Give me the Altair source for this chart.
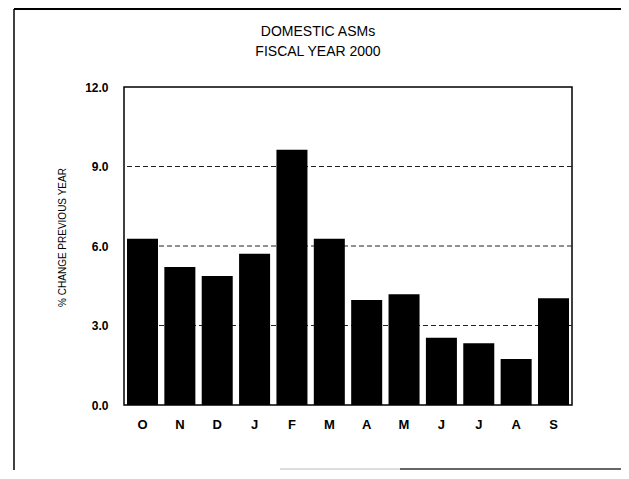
import altair as alt
import pandas as pd

months = ["Oct", "Nov", "Dec", "Jan", "Feb", "Mar", "Apr", "May", "Jun", "Jul", "Aug", "Sep"]
tick_labels = ["O", "N", "D", "J", "F", "M", "A", "M", "J", "J", "A", "S"]
values = [6.27, 5.21, 4.87, 5.71, 9.63, 6.27, 3.96, 4.18, 2.54, 2.33, 1.74, 4.03]
gridlines = [3.0, 6.0, 9.0]
y_ticks = [0.0, 3.0, 6.0, 9.0, 12.0]

FONT = "Liberation Sans"

df = pd.DataFrame({"month": months, "value": values})
grid_df = pd.DataFrame({"g": gridlines})
one = pd.DataFrame({"a": [0]})

months_js = "[" + ",".join("'%s'" % m for m in months) + "]"
labels_js = "[" + ",".join("'%s'" % t for t in tick_labels) + "]"
label_expr = labels_js + "[indexof(" + months_js + ", datum.value)]"

yscale = alt.Scale(domain=[0, 12], nice=False)

grid = alt.Chart(grid_df).mark_rule(
    color="#222222", strokeWidth=1, strokeDash=[5, 3]
).encode(y=alt.Y("g:Q", scale=yscale))

bars = alt.Chart(df).mark_bar(color="black").encode(
    x=alt.X(
        "month:N",
        sort=months,
        scale=alt.Scale(paddingInner=0.17, paddingOuter=0.08),
        axis=alt.Axis(
            title=None, labelExpr=label_expr, labelAngle=0, ticks=False,
            domain=False, labelPadding=13, labelFontSize=13,
            labelFontWeight="bold", labelFont=FONT, labelColor="black",
        ),
    ),
    y=alt.Y(
        "value:Q",
        scale=yscale,
        axis=alt.Axis(
            title="% CHANGE PREVIOUS YEAR", values=y_ticks, format=".1f",
            grid=False, ticks=False, domain=False, labelPadding=16,
            labelFontSize=12, labelFontWeight="bold", labelFont=FONT,
            labelColor="black", titleFont=FONT, titleFontSize=10,
            titleFontWeight="normal", titleColor="black", titleAngle=-90,
            titleX=-62, titleY=150, titleAlign="center", titleBaseline="middle",
        ),
    ),
)

frame_top = alt.Chart(one).mark_rule(color="black", strokeWidth=2).encode(
    x=alt.value(-110), x2=alt.value(497), y=alt.value(-78)
)
frame_left = alt.Chart(one).mark_rule(color="black", strokeWidth=1.5).encode(
    x=alt.value(-110), y=alt.value(-78), y2=alt.value(383)
)
frame_bottom_faint = alt.Chart(one).mark_rule(color="#bbbbbb", strokeWidth=1).encode(
    x=alt.value(156), x2=alt.value(276), y=alt.value(382)
)
frame_bottom = alt.Chart(one).mark_rule(color="#333333", strokeWidth=1.5).encode(
    x=alt.value(276), x2=alt.value(497), y=alt.value(382)
)

chart = alt.layer(
    grid, bars, frame_top, frame_left, frame_bottom_faint, frame_bottom
).properties(
    width=448,
    height=318,
    background="white",
    autosize=alt.AutoSizeParams(type="none"),
    padding={"left": 116, "top": 79, "right": 49, "bottom": 66},
    title=alt.TitleParams(
        text=["DOMESTIC ASMs", "FISCAL YEAR 2000"],
        font=FONT, fontSize=14, fontWeight="normal", color="black",
        anchor="middle", dx=-30, dy=78, offset=27, lineHeight=20,
    ),
).configure_view(
    stroke="black", strokeWidth=1.5
)

chart.save("out.html", embed_options={"renderer": "svg", "actions": False})
